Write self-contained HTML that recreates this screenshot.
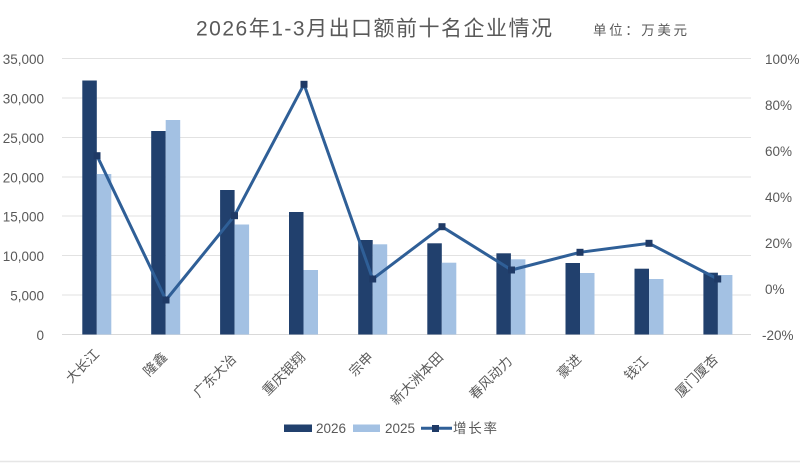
<!DOCTYPE html>
<html><head><meta charset="utf-8"><style>
html,body{margin:0;padding:0;background:#fff;}
svg{display:block;}
text{font-family:"Liberation Sans","Noto Sans CJK SC",sans-serif;fill:#595959;}
</style></head><body>
<svg width="800" height="463" viewBox="0 0 800 463" xmlns="http://www.w3.org/2000/svg">
<rect x="0" y="0" width="800" height="463" fill="#fff"/>
<line x1="0" y1="461.5" x2="800" y2="461.5" stroke="#e6e6e6" stroke-width="1.5"/>
<!-- title -->
<text x="196" y="35.5" font-size="21" textLength="356" lengthAdjust="spacing" fill="#555">2026年1-3月出口额前十名企业情况</text>
<text x="593" y="35" font-size="13.5" textLength="94" lengthAdjust="spacing" fill="#555">单位：万美元</text>
<!-- gridlines -->
<g stroke="#e2e2e2" stroke-width="1">
<line x1="62" y1="58.5" x2="751" y2="58.5"/>
<line x1="62" y1="98" x2="751" y2="98"/>
<line x1="62" y1="137.5" x2="751" y2="137.5"/>
<line x1="62" y1="177" x2="751" y2="177"/>
<line x1="62" y1="216" x2="751" y2="216"/>
<line x1="62" y1="255.5" x2="751" y2="255.5"/>
<line x1="62" y1="295" x2="751" y2="295"/>
</g>
<line x1="62" y1="334.5" x2="751" y2="334.5" stroke="#d9d9d9" stroke-width="1"/>
<!-- left axis labels -->
<g font-size="13.5" text-anchor="end">
<text x="44" y="64">35,000</text>
<text x="44" y="103.5">30,000</text>
<text x="44" y="143">25,000</text>
<text x="44" y="182.5">20,000</text>
<text x="44" y="221.5">15,000</text>
<text x="44" y="261">10,000</text>
<text x="44" y="300.5">5,000</text>
<text x="44" y="340">0</text>
</g>
<!-- right axis labels -->
<g font-size="13.5">
<text x="765" y="64">100%</text>
<text x="765" y="110">80%</text>
<text x="765" y="156">60%</text>
<text x="765" y="202">40%</text>
<text x="765" y="248">20%</text>
<text x="765" y="294">0%</text>
<text x="762" y="340">-20%</text>
</g>
<!-- bars 2026 -->
<g fill="#21406d">
<rect x="82.3" y="80.5" width="14.5" height="254"/>
<rect x="151.2" y="131" width="14.5" height="203.5"/>
<rect x="220.1" y="190" width="14.5" height="144.5"/>
<rect x="289" y="212" width="14.5" height="122.5"/>
<rect x="358.2" y="240" width="14.5" height="94.5"/>
<rect x="427.3" y="243.3" width="14.5" height="91.2"/>
<rect x="496.4" y="253.3" width="14.5" height="81.2"/>
<rect x="565.5" y="263" width="14.5" height="71.5"/>
<rect x="634.5" y="268.7" width="14.5" height="65.8"/>
<rect x="703.4" y="272.7" width="14.5" height="61.8"/>
</g>
<!-- bars 2025 -->
<g fill="#a3c1e3">
<rect x="96.8" y="174" width="14.5" height="160.5"/>
<rect x="165.7" y="120" width="14.5" height="214.5"/>
<rect x="234.6" y="224.5" width="14.5" height="110"/>
<rect x="303.5" y="270" width="14.5" height="64.5"/>
<rect x="372.7" y="244.3" width="14.5" height="90.2"/>
<rect x="441.8" y="262.7" width="14.5" height="71.8"/>
<rect x="510.9" y="259.3" width="14.5" height="75.2"/>
<rect x="580" y="273" width="14.5" height="61.5"/>
<rect x="649" y="279" width="14.5" height="55.5"/>
<rect x="717.9" y="275" width="14.5" height="59.5"/>
</g>
<!-- growth line -->
<polyline fill="none" stroke="#2f5f97" stroke-width="3" stroke-linejoin="round"
 points="97,155.7 166,300 234.5,215.7 304,84.3 372.7,279 442,226.7 511.5,270 580,252.3 649,243.3 717.7,279"/>
<g fill="#1f3a66">
<rect x="93.5" y="152.2" width="7" height="7"/>
<rect x="162.5" y="296.5" width="7" height="7"/>
<rect x="231" y="212.2" width="7" height="7"/>
<rect x="300.5" y="80.8" width="7" height="7"/>
<rect x="369.2" y="275.5" width="7" height="7"/>
<rect x="438.5" y="223.2" width="7" height="7"/>
<rect x="508" y="266.5" width="7" height="7"/>
<rect x="576.5" y="248.8" width="7" height="7"/>
<rect x="645.5" y="239.8" width="7" height="7"/>
<rect x="714.2" y="275.5" width="7" height="7"/>
</g>
<!-- x labels -->
<g font-size="13.5" text-anchor="end">
<text transform="translate(100,355) rotate(-45)">大长江</text>
<text transform="translate(168,358) rotate(-45)">隆鑫</text>
<text transform="translate(237,360) rotate(-45)">广东大冶</text>
<text transform="translate(306,358) rotate(-45)">重庆银翔</text>
<text transform="translate(374,358) rotate(-45)">宗申</text>
<text transform="translate(444,358) rotate(-45)">新大洲本田</text>
<text transform="translate(513,362) rotate(-45)">春风动力</text>
<text transform="translate(582,360) rotate(-45)">豪进</text>
<text transform="translate(649,362) rotate(-45)">钱江</text>
<text transform="translate(719,360) rotate(-45)">厦门厦杏</text>
</g>
<!-- legend -->
<rect x="284" y="424.5" width="28" height="7.5" fill="#21406d"/>
<text x="316" y="433" font-size="13.5">2026</text>
<rect x="353" y="424.5" width="27" height="7.5" fill="#a3c1e3"/>
<text x="385" y="433" font-size="13.5">2025</text>
<line x1="421" y1="428.3" x2="452" y2="428.3" stroke="#2f5f97" stroke-width="3"/>
<rect x="432" y="425" width="7" height="7" fill="#1f3a66"/>
<text x="453" y="433" font-size="13.5" textLength="44" lengthAdjust="spacing">增长率</text>
</svg>
</body></html>
